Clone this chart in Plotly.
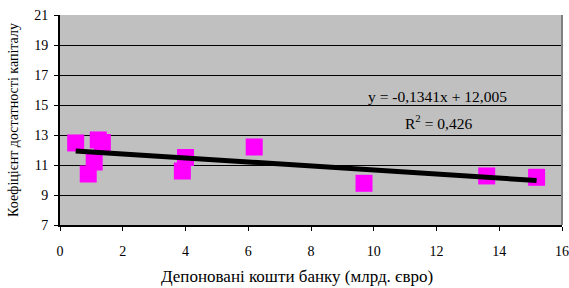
import plotly.graph_objects as go

x_vals = [0.5, 1.22, 1.35, 1.09, 0.9, 4.0, 3.9, 6.19, 9.69, 13.6, 15.19]
y_vals = [12.47, 12.67, 12.5, 11.2, 10.4, 11.5, 10.6, 12.2, 9.78, 10.27, 10.18]
slope = -0.1341
intercept = 12.005
r2_text = "0,426"
eq_text = "y = -0,1341x + 12,005"
x_ticks = [0, 2, 4, 6, 8, 10, 12, 14, 16]
y_ticks = [7, 9, 11, 13, 15, 17, 19, 21]
x_title = "Депоновані кошти банку (млрд. євро)"
y_title = "Коефіцієнт достатності капіталу"

x_line = [min(x_vals), max(x_vals)]
y_line = [slope * v + intercept for v in x_line]

font_family = "Liberation Serif"

fig = go.Figure()
fig.add_trace(go.Scatter(x=x_vals, y=y_vals, mode="markers",
                         marker=dict(symbol="square", size=17, color="#FF00FF",
                                     line=dict(width=0)),
                         showlegend=False, cliponaxis=False))
fig.add_trace(go.Scatter(x=x_line, y=y_line, mode="lines",
                         line=dict(color="black", width=5), showlegend=False))

fig.add_annotation(x=12.02, y=15.6, xref="x", yref="y", text=eq_text,
                   showarrow=False, font=dict(family=font_family, size=15.5, color="black"))
fig.add_annotation(x=12.05, y=13.9, xref="x", yref="y", text="R<sup>2</sup> = " + r2_text,
                   showarrow=False, font=dict(family=font_family, size=15.5, color="black"))
fig.add_annotation(x=0.472, y=0, xref="paper", yref="paper", yshift=-51,
                   yanchor="middle", xanchor="center", text=x_title, showarrow=False,
                   font=dict(family=font_family, size=17, color="black"))

fig.update_layout(
    width=569, height=288,
    margin=dict(l=60, r=7, t=15, b=63, autoexpand=False),
    paper_bgcolor="white", plot_bgcolor="#C0C0C0",
    font=dict(family=font_family, size=13, color="black"),
    xaxis=dict(range=[0, 16], tickvals=x_ticks, showgrid=False, zeroline=False,
               showline=True, linecolor="black", linewidth=2, ticks="outside",
               ticklen=4, tickcolor="black", tickfont=dict(family=font_family, size=14),
               ticklabelstandoff=8, ticklabeloverflow="allow", automargin=False),
    yaxis=dict(range=[7, 21], tickvals=y_ticks, showgrid=True, gridcolor="black", gridwidth=1,
               zeroline=False, showline=True, linecolor="black", linewidth=2, ticks="outside",
               ticklen=4, tickcolor="black", tickfont=dict(family=font_family, size=14),
               ticklabelstandoff=3, ticklabeloverflow="allow", automargin=False,
               title=dict(text=y_title, font=dict(family=font_family, size=14), standoff=12)),
)
fig.add_shape(type="line", xref="paper", yref="paper", x0=1, x1=1, y0=0, y1=1,
              line=dict(color="#808080", width=2))

fig.write_html("out.html", config={"displayModeBar": False},
               post_script="document.body.style.margin='0';document.body.style.overflow='hidden';")
